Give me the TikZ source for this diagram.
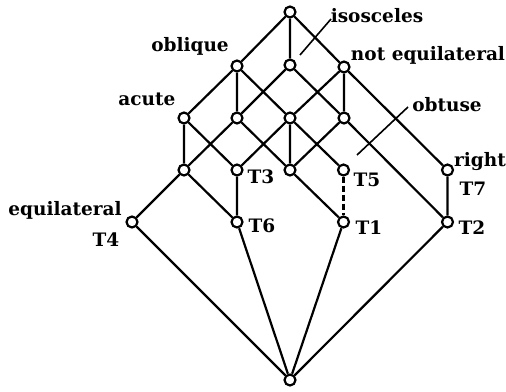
\documentclass[tikz,border=0pt]{standalone}
\usepackage{fontspec}
\setmainfont{DejaVu Serif}
\begin{document}
\begin{tikzpicture}[x=1pt,y=-1pt,
  v/.style={circle,draw,line width=2.2pt,minimum size=11pt,inner sep=0pt,fill=white},
  e/.style={line width=2.2pt},
  lbl/.style={font=\bfseries\fontsize{18.5}{19}\selectfont,inner sep=0pt}]
\useasboundingbox (0,0) rectangle (506,391);
% vertices
\node[v] (top) at (290,12) {};
\node[v] (o) at (237,66) {};
\node[v] (m) at (290,65) {};
\node[v] (ne) at (344,67) {};
\node[v] (a) at (184,118) {};
\node[v] (b) at (237,118) {};
\node[v] (c) at (290,118) {};
\node[v] (d) at (344,118) {};
\node[v] (g) at (184,170) {};
\node[v] (t3) at (237,170) {};
\node[v] (f) at (290,170) {};
\node[v] (t5) at (343.5,170) {};
\node[v] (r) at (447.5,170) {};
\node[v] (eq) at (132,222) {};
\node[v] (t6) at (237,222) {};
\node[v] (t1) at (343.5,222) {};
\node[v] (t2) at (447.5,222) {};
\node[v] (bot) at (290,380) {};
% edges
\draw[e] (top)--(o) (top)--(m) (top)--(ne);
\draw[e] (o)--(a) (o)--(b) (o)--(c);
\draw[e] (m)--(b) (m)--(d);
\draw[e] (ne)--(c) (ne)--(d) (ne)--(r);
\draw[e] (a)--(g) (a)--(t3);
\draw[e] (b)--(g) (b)--(f);
\draw[e] (c)--(t3) (c)--(f) (c)--(t5);
\draw[e] (d)--(f) (d)--(t2);
\draw[e] (g)--(eq) (g)--(t6);
\draw[e] (t3)--(t6) (f)--(t1) (r)--(t2);
\draw[e,dash pattern=on 6pt off 3pt] (t5)--(t1);
\draw[e] (bot)--(eq) (bot)--(t6) (bot)--(t1) (bot)--(t2);
% labels
\node[lbl] (lisos) at (377,16) {isosceles};
\node[lbl] (lobl) at (190,46) {oblique};
\node[lbl] (lne) at (428,55) {not equilateral};
\node[lbl] (lac) at (147,99) {acute};
\node[lbl] (lob) at (447,105) {obtuse};
\node[lbl] (lri) at (480,162) {right};
\node[lbl] (lt7) at (473,189) {T7};
\node[lbl] (lt3) at (261,177) {T3};
\node[lbl] (lt5) at (367,180) {T5};
\node[lbl] (leq) at (65,210) {equilateral};
\node[lbl] (lt4) at (106,240) {T4};
\node[lbl] (lt6) at (262,226) {T6};
\node[lbl] (lt1) at (369,228) {T1};
\node[lbl] (lt2) at (472,228) {T2};
% pointers
\coordinate (pis) at (331,19);
\coordinate (pi) at (300,55);
\coordinate (pos) at (408,107);
\coordinate (po) at (357,155);
\draw[line width=1.6pt] (pis) -- (pi);
\draw[line width=1.6pt] (pos) -- (po);
\end{tikzpicture}
\end{document}
